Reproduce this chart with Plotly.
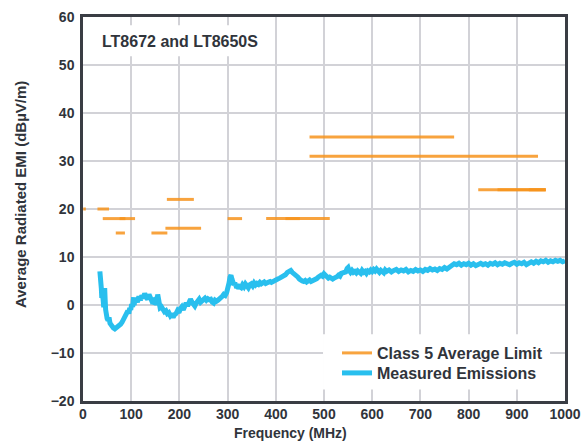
import plotly.graph_objects as go

# Class 5 average limit bands: start / stop frequency (MHz) and level (dBµV/m)
limit_start = [0.53, 30, 41, 68, 76, 142, 174, 171, 300, 380, 420, 470, 470, 820, 860, 925]
limit_stop = [5.9, 54, 88, 87, 108, 175, 230, 245, 330, 512, 450, 770, 944, 960, 960, 960]
limit_level = [20, 20, 18, 15, 18, 15, 22, 16, 18, 18, 18, 35, 31, 24, 24, 24]

# Measured average radiated emissions
freq_mhz = [
    35, 36, 37, 38, 39, 40, 41, 42, 43, 44, 45, 46, 47, 48, 50, 52, 54, 56, 58, 60,
    63, 66, 69, 72, 75, 78, 81, 84, 87, 90, 93, 95, 97, 99, 101, 103, 105, 106, 108, 110,
    113, 116, 119, 122, 125, 128, 131, 134, 137, 140, 143, 146, 149, 151, 153, 155, 157, 160, 163, 166,
    169, 172, 175, 178, 181, 184, 187, 190, 193, 196, 199, 202, 205, 208, 211, 214, 217, 220, 223, 226,
    229, 232, 235, 238, 241, 244, 247, 250, 253, 256, 259, 262, 265, 268, 271, 274, 277, 280, 283, 286,
    289, 292, 295, 298, 301, 303, 305, 307, 309, 311, 313, 315, 317, 319, 321, 323, 325, 328, 331, 334,
    337, 340, 343, 346, 349, 352, 355, 358, 361, 364, 367, 370, 373, 376, 379, 382, 385, 388, 391, 394,
    397, 400, 404, 408, 412, 416, 420, 424, 428, 431, 434, 437, 440, 443, 446, 449, 452, 455, 458, 461,
    464, 467, 470, 473, 476, 479, 482, 485, 488, 491, 494, 497, 500, 503, 506, 509, 512, 515, 518, 521,
    524, 527, 530, 533, 536, 539, 542, 545, 548, 550, 552, 555, 558, 561, 564, 567, 570, 573, 576, 579,
    582, 585, 588, 591, 594, 597, 600, 603, 606, 609, 612, 615, 618, 621, 624, 627, 630, 635, 640, 645,
    650, 655, 660, 665, 670, 675, 680, 685, 690, 695, 700, 705, 710, 715, 720, 725, 730, 735, 740, 745,
    750, 755, 760, 765, 770, 775, 780, 785, 790, 795, 800, 805, 810, 815, 820, 825, 830, 835, 840, 845,
    850, 855, 860, 865, 870, 875, 880, 885, 890, 895, 900, 905, 910, 915, 920, 925, 930, 935, 940, 945,
    950, 955, 960, 965, 970, 975, 980, 985, 990, 995, 1000,
]
emi_dbuv = [
    7.0, 6.2, 5.0, 3.5, 1.5, 0.5, 2.0, 0.8, -0.5, 1.5, 3.5, 1.0, -1.0, -2.0, -2.8, -3.2, -2.6, -3.8, -4.2, -4.6,
    -4.8, -5.0, -4.8, -4.6, -4.4, -4.0, -3.6, -3.0, -2.6, -2.0, -1.2, -1.8, -0.6, -1.0, 0.2, -0.4, 1.6, 0.0, 0.8, 1.2,
    0.6, 1.8, 1.0, 2.0, 1.4, 2.4, 1.6, 1.2, 2.2, 1.4, 0.8, 1.0, 0.2, 0.6, 0.0, 2.2, 0.0, -0.6, -0.4, -1.0,
    -1.4, -1.2, -1.8, -1.6, -2.2, -1.8, -2.6, -2.0, -1.8, -1.2, -1.6, -0.8, -0.4, -1.0, -0.2, 0.4, -0.2, 0.8, 1.2, 0.6,
    0.2, -0.2, 0.4, 0.8, 1.2, 0.6, 0.8, 1.2, 1.4, 1.0, 1.3, 1.1, 1.2, 0.6, 0.4, 1.0, 0.8, 1.0, 1.2, 1.5,
    1.8, 2.2, 2.0, 2.6, 3.4, 4.6, 5.8, 6.2, 5.4, 4.8, 4.2, 4.6, 4.0, 3.6, 4.0, 3.4, 3.8, 3.6, 4.2, 3.8,
    4.4, 4.0, 3.6, 4.2, 4.4, 4.0, 4.6, 4.2, 4.5, 4.3, 4.7, 4.4, 4.6, 4.8, 4.5, 4.7, 4.6, 4.9, 4.7, 4.8,
    4.9, 5.2, 5.4, 5.6, 5.8, 6.1, 6.3, 6.8, 7.0, 7.2, 6.8, 6.6, 6.4, 6.1, 5.8, 5.4, 5.1, 5.0, 4.9, 5.1,
    4.8, 5.0, 5.2, 4.9, 5.0, 5.3, 5.2, 5.5, 5.8, 6.0, 6.2, 6.0, 6.5, 6.2, 6.0, 5.6, 5.8, 5.5, 5.4, 5.6,
    5.7, 5.9, 6.2, 6.0, 6.6, 6.8, 7.0, 6.9, 7.6, 7.8, 7.2, 6.8, 7.2, 6.8, 7.0, 6.7, 7.1, 6.9, 6.6, 7.2,
    6.8, 7.0, 6.6, 7.1, 6.9, 7.3, 7.0, 7.4, 7.1, 7.5, 7.0, 6.8, 7.2, 7.0, 6.7, 7.3, 7.0, 7.3, 6.9, 7.2,
    7.4, 7.0, 7.3, 7.1, 7.4, 6.9, 7.2, 7.0, 7.4, 7.1, 7.3, 7.0, 7.4, 7.2, 7.6, 7.3, 7.5, 7.2, 7.6, 7.4,
    7.8, 7.5, 7.9, 8.2, 8.6, 8.4, 8.7, 8.3, 8.6, 8.4, 8.7, 8.3, 8.6, 8.2, 8.5, 8.7, 8.4, 8.6, 8.3, 8.7,
    8.5, 8.8, 8.4, 8.7, 8.5, 8.8, 8.6, 8.4, 8.7, 8.9, 8.5, 8.8, 8.6, 8.9, 8.4, 8.8, 9.0, 8.7, 9.1, 8.8,
    9.2, 9.0, 9.3, 8.9, 9.2, 9.0, 9.3, 9.1, 9.3, 9.0, 9.2,
]

x_ticks = list(range(0, 1001, 100))
y_ticks = list(range(-20, 61, 10))

ORANGE = "#F7941D"
BLUE = "#29BFEE"
TEXT = "#30343b"
FONT = "Liberation Sans"

# Figure geometry (px) used to place paper-referenced items
W, H = 584, 441
ML, MR, MT, MB = 83, 19, 17, 40
PW, PH = W - ML - MR, H - MT - MB


def px_x(px):
    return (px - ML) / PW


def px_y(py):
    return (H - MB - py) / PH


fig = go.Figure()

# One trace per limit band so overlapping bands darken where they stack
for i, (f0, f1, lvl) in enumerate(zip(limit_start, limit_stop, limit_level)):
    fig.add_trace(go.Scatter(
        x=[f0, f1], y=[lvl, lvl], mode="lines",
        line=dict(color=ORANGE, width=3),
        opacity=0.85,
        name="Class 5 Average Limit",
        legend="legend",
        showlegend=(i == 0),
        hoverinfo="skip",
    ))

fig.add_trace(go.Scatter(
    x=freq_mhz, y=emi_dbuv, mode="lines",
    line=dict(color=BLUE, width=5),
    name="Measured Emissions",
    legend="legend2",
))

axis_common = dict(
    showgrid=True, gridcolor="#d2d2d7", gridwidth=1.5,
    showline=True, linecolor="#3a3d44", linewidth=2.5, mirror=True,
    zeroline=False, ticks="", automargin=False,
    tickfont=dict(family=FONT, size=14, color=TEXT, weight="bold"),
)

fig.update_xaxes(range=[0, 1000], tickvals=x_ticks, ticklabelstandoff=-2, **axis_common)
fig.update_yaxes(range=[-20, 60], tickvals=y_ticks, ticklabelstandoff=3, **axis_common)

# White panels behind the chart label and the legend (above grid, below data)
fig.add_shape(type="rect", x0=8, x1=378, y0=51.8, y1=58.3, xref="x", yref="y",
              fillcolor="white", line=dict(width=0), layer="between")
fig.add_shape(type="rect", x0=498, x1=969, y0=-17.6, y1=-6.1, xref="x", yref="y",
              fillcolor="white", line=dict(width=0), layer="between")

fig.add_annotation(text="LT8672 and LT8650S", x=35, y=55, xref="x", yref="y",
                   xanchor="left", yanchor="middle", showarrow=False,
                   font=dict(family=FONT, size=16, color=TEXT, weight="bold"))

fig.add_annotation(text="Frequency (MHz)", x=px_x(290), y=px_y(433),
                   xref="paper", yref="paper", xanchor="center", yanchor="middle",
                   showarrow=False,
                   font=dict(family=FONT, size=14, color=TEXT, weight="bold"))
fig.add_annotation(text="Average Radiated EMI (dBµV/m)", x=px_x(20), y=px_y(195),
                   xref="paper", yref="paper", xanchor="center", yanchor="middle",
                   textangle=-90, showarrow=False,
                   font=dict(family=FONT, size=15, color=TEXT, weight="bold"))

legend_style = dict(
    xanchor="left", yanchor="top",
    bgcolor="rgba(0,0,0,0)", borderwidth=0,
    font=dict(family=FONT, size=16, color=TEXT, weight="bold"),
    itemwidth=30,
)

fig.update_layout(
    width=W, height=H,
    margin=dict(l=ML, r=MR, t=MT, b=MB),
    paper_bgcolor="white", plot_bgcolor="white",
    showlegend=True,
    legend=dict(x=px_x(337), y=px_y(336), **legend_style),
    legend2=dict(x=px_x(337), y=px_y(356), **legend_style),
    hovermode=False,
)

fig.write_html("out.html")
